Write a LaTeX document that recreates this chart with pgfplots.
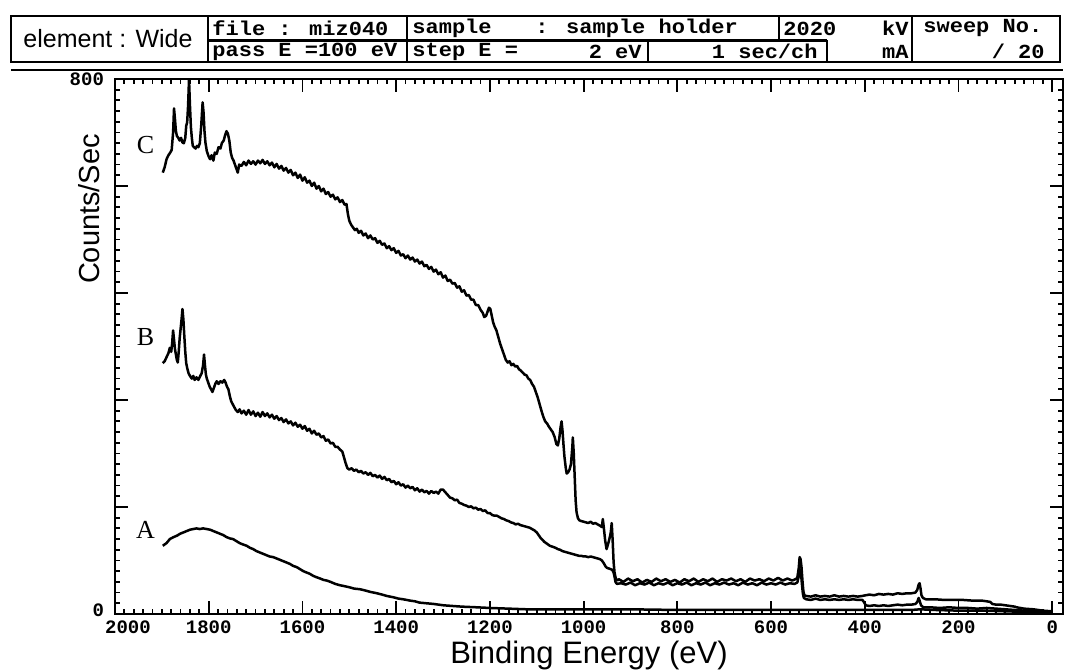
\documentclass[border=0pt]{standalone}
\usepackage{fontspec}
\setmainfont{Liberation Sans}
\newfontfamily\monob{Liberation Mono}
\newfontfamily\hdrfont{Liberation Mono}[FakeStretch=1.1]
\newfontfamily\serifl{Liberation Serif}
\usepackage{pgfplots}
\usepackage{pgfplotstable}
\pgfplotsset{compat=1.18}

% spectrum C (top)
\pgfplotstableread{
x y
1898 660
1894 668
1890 680
1886 686
1882 690
1879 694
1876 720
1874 756
1872 740
1870 722
1868 715
1865 712
1862 708
1859 712
1856 705
1853 704
1850 712
1848 730
1846 735
1844 760
1842 800
1840 760
1838 728
1836 712
1834 700
1831 698
1828 696
1825 700
1822 698
1819 704
1816 730
1813 765
1811 750
1809 722
1807 705
1804 692
1800 684
1797 680
1794 686
1790 678
1787 690
1783 688
1779 698
1775 696
1772 704
1768 708
1765 716
1762 722
1759 718
1756 708
1753 690
1750 682
1747 678
1744 672
1741 666
1738 660
1735 672
1730 670
1725 676
1720 671
1715 678
1710 673
1705 677
1700 672
1695 678
1690 674
1685 679
1680 673
1675 677
1670 671
1665 675
1660 668
1655 673
1650 666
1645 670
1640 663
1635 667
1630 660
1625 664
1620 656
1615 660
1610 652
1605 657
1600 648
1595 653
1590 645
1585 648
1580 640
1575 645
1570 636
1565 640
1560 632
1555 636
1550 628
1545 631
1540 624
1535 627
1530 620
1525 623
1520 616
1515 619
1510 612
1506 613
1503 598
1500 588
1496 582
1492 578
1488 574
1484 576
1480 570
1475 573
1470 566
1465 569
1460 562
1455 566
1450 560
1445 562
1440 555
1435 558
1430 552
1425 554
1420 547
1415 550
1410 544
1405 547
1400 540
1395 543
1390 536
1385 538
1380 532
1375 536
1370 530
1365 533
1360 527
1355 530
1350 524
1345 527
1340 520
1335 522
1330 516
1325 519
1320 512
1315 515
1310 508
1305 511
1300 503
1295 506
1290 498
1285 500
1280 494
1275 495
1270 488
1265 490
1260 482
1255 484
1250 476
1245 477
1240 470
1235 470
1230 462
1225 462
1220 455
1215 450
1212 444
1208 446
1205 452
1202 458
1199 456
1196 446
1193 436
1190 430
1186 424
1182 414
1178 404
1174 396
1170 388
1166 380
1162 376
1158 378
1154 372
1150 374
1146 370
1142 371
1138 366
1134 364
1130 361
1126 358
1122 357
1118 352
1114 350
1110 344
1106 340
1102 332
1098 324
1094 314
1090 304
1086 295
1082 288
1078 285
1074 280
1070 276
1066 272
1062 265
1058 254
1055 252
1052 262
1049 280
1047 288
1045 274
1043 254
1041 236
1038 218
1036 210
1033 212
1030 216
1027 224
1024 250
1023 264
1021 240
1019 205
1017 170
1015 152
1012 143
1009 140
1005 139
1000 138
995 137
990 136
985 138
980 135
975 136
970 134
965 132
961 130
959 142
957 130
954 110
951 97
948 104
945 112
942 122
940 136
938 110
936 78
934 62
931 52
928 50
925 52
915 48
905 53
895 49
885 52
875 47
865 51
855 48
845 53
835 49
825 52
815 48
805 51
795 47
785 52
775 49
765 53
755 48
745 52
735 49
725 53
715 48
705 52
695 50
685 53
675 49
665 52
655 48
645 53
635 50
625 52
615 49
605 53
595 50
585 54
575 50
565 53
555 50
548 52
544 54
541 68
539 85
537 82
535 70
533 50
531 34
529 28
525 27
515 26
505 28
495 26
485 27
475 26
465 28
455 26
445 27
435 26
425 27
415 26
405 27
398 28
390 29
380 28
370 30
360 29
350 30
340 29
330 31
320 30
310 31
300 31
292 32
288 36
285 44
283 46
281 38
279 28
276 24
270 22
250 22
230 21
210 21
190 21
170 20
150 20
140 19
132 18
128 15
120 14
110 14
100 13
90 12
80 11
76 10
60 8
40 7
20 5
0 4
}\curveC

% spectrum B (middle)
\pgfplotstableread{
x y
1898 375
1894 378
1890 384
1886 390
1883 398
1880 392
1878 405
1876 424
1874 410
1872 396
1870 388
1868 380
1866 376
1864 392
1862 412
1860 426
1858 440
1856 456
1854 440
1852 415
1850 392
1848 375
1846 368
1843 360
1840 356
1836 352
1833 356
1830 350
1826 354
1822 350
1818 356
1815 360
1812 372
1810 388
1808 372
1806 358
1804 352
1801 346
1798 340
1795 336
1792 332
1789 338
1786 344
1783 348
1779 344
1775 348
1771 346
1767 350
1764 346
1761 340
1758 336
1755 326
1752 318
1749 314
1746 310
1742 305
1738 302
1734 306
1730 300
1725 304
1720 298
1715 305
1710 298
1705 303
1700 296
1695 301
1690 295
1685 302
1680 296
1675 300
1670 294
1665 298
1660 292
1655 296
1650 290
1645 293
1640 287
1635 291
1630 285
1625 288
1620 282
1615 286
1610 280
1605 283
1600 277
1595 281
1590 274
1585 277
1580 270
1575 274
1570 268
1565 270
1560 264
1555 266
1550 259
1545 261
1540 255
1535 256
1530 250
1525 250
1520 246
1515 243
1512 236
1508 226
1504 218
1500 216
1495 218
1490 214
1485 216
1480 212
1475 214
1470 210
1465 212
1460 208
1455 211
1450 206
1445 208
1440 204
1435 207
1430 202
1425 205
1420 200
1415 202
1410 197
1405 199
1400 194
1395 197
1390 192
1385 194
1380 189
1375 192
1370 188
1365 190
1360 185
1355 188
1350 183
1345 186
1340 182
1335 184
1330 180
1325 184
1320 181
1315 183
1310 180
1305 186
1300 186
1295 182
1290 178
1285 174
1280 173
1275 170
1270 171
1265 166
1260 165
1255 163
1250 162
1245 160
1240 161
1235 158
1230 159
1225 156
1220 157
1215 154
1210 155
1205 151
1200 151
1195 148
1190 147
1185 147
1180 145
1175 143
1170 142
1165 140
1160 139
1155 137
1150 136
1145 134
1140 135
1135 133
1130 132
1125 131
1120 130
1115 129
1110 127
1105 125
1100 122
1096 118
1092 114
1088 111
1084 108
1080 106
1076 104
1072 102
1068 101
1064 100
1060 99
1055 97
1050 96
1045 94
1040 93
1035 92
1030 91
1025 90
1020 89
1015 88
1010 87
1005 87
1000 86
995 86
990 85
985 86
980 85
975 84
970 83
965 82
961 80
957 76
953 71
950 69
946 68
942 67
939 66
936 62
934 56
932 48
929 45
920 46
910 44
900 47
890 43
880 46
870 44
860 47
850 43
840 46
830 44
820 47
810 43
800 46
790 44
780 47
770 43
760 46
750 44
740 47
730 43
720 46
710 44
700 47
690 44
680 46
670 43
660 47
650 44
640 46
630 43
620 47
610 44
600 46
590 44
580 47
570 44
560 46
550 45
544 47
541 56
538 67
536 60
534 44
532 30
530 24
525 22
515 21
505 23
495 21
485 22
475 21
465 22
455 21
445 22
435 21
425 22
415 21
405 21
401 17
398 13
390 12
380 13
370 12
360 13
350 12
340 13
330 14
320 13
310 14
300 14
292 15
288 18
285 24
283 20
280 13
275 10
260 10
240 9
220 10
200 9
180 9
160 8
140 9
120 8
100 7
80 6
60 5
40 4
20 4
0 3
}\curveB

% spectrum A (bottom)
\pgfplotstableread{
x y
1898 102
1890 106
1883 112
1875 115
1868 117
1861 120
1854 122
1847 124
1840 126
1833 127
1826 128
1819 127
1812 128
1804 127
1797 126
1790 124
1783 122
1776 120
1769 118
1762 115
1755 113
1748 112
1741 109
1734 106
1727 104
1719 102
1712 99
1705 97
1698 94
1691 92
1684 90
1677 88
1670 86
1662 85
1655 83
1648 81
1641 79
1634 77
1627 75
1620 72
1612 70
1605 67
1598 64
1591 62
1584 60
1577 57
1570 55
1562 53
1555 51
1548 50
1540 48
1530 45
1520 43
1513 42
1500 40
1490 38
1477 37
1465 35
1455 33
1441 31
1430 29
1420 27
1406 25
1395 23
1385 22
1370 20
1360 19
1350 17
1335 16
1320 15
1299 13
1280 12
1260 11
1228 10
1200 9
1160 8
1121 7
1080 7
1000 7
900 7
800 6
700 6
600 6
540 6
500 6
400 6
300 6
282 7
250 6
200 5
150 5
100 4
50 3
0 3
}\curveA

\begin{document}
\begin{tikzpicture}
\useasboundingbox (0,0) rectangle (532.5pt,336pt);
\begin{axis}[
  at={(57.5pt,29pt)}, anchor=south west,
  scale only axis, width=474pt, height=267.5pt,
  x dir=reverse, xmin=-23, xmax=2000, ymin=0, ymax=800,
  xtick={0,200,...,2000}, minor x tick num=9,
  xticklabels={0,200,400,600,800,1000,1200,1400,1600,1800,\hspace*{13pt}2000},
  ytick={0,160,320,480,640,800},
  yticklabels={\raisebox{4pt}{0},{},{},{},{},\raisebox{-4pt}{800}},
  minor y tick num=9,
  tick align=inside, major tick length=6.5pt, minor tick length=2.5pt,
  axis line style={line width=1.3pt},
  every tick/.style={line width=0.9pt, black},
  ticklabel style={font=\monob\bfseries\fontsize{9.5}{10}\selectfont},
  yticklabel style={xshift=-2pt},
  /pgf/number format/assume math mode=true,
  /pgf/number format/1000 sep={},
]
\addplot[black, line width=1.25pt, line join=round] table[x=x,y=y] {\curveA};
\addplot[black, line width=1.25pt, line join=round] table[x=x,y=y] {\curveB};
\addplot[black, line width=1.25pt, line join=round] table[x=x,y=y] {\curveC};
\node[font=\serifl\fontsize{13}{13}\selectfont] at (axis cs:1935,701) {C};
\node[font=\serifl\fontsize{13}{13}\selectfont] at (axis cs:1935,414) {B};
\node[font=\serifl\fontsize{13}{13}\selectfont] at (axis cs:1935,126) {A};
\end{axis}

\begin{scope}[x=0.5pt,y=-0.5pt,yshift=336pt]
  % header boxes
  \draw[line width=1.1pt] (11,16) rectangle (1060,62);
  \draw[line width=1.1pt] (208,16)--(208,62) (407,16)--(407,62) (912,16)--(912,62);
  \draw[line width=1.1pt] (208,40.5)--(827,40.5);
  \draw[line width=1.1pt] (648,40.5)--(648,62) (827,40.5)--(827,62) (779,16)--(779,40.5);
  \draw[line width=0.8pt] (11,70)--(1063,70);
  \node[font=\fontsize{12.5}{12.5}\selectfont] at (108,39) {element : Wide};
  \begin{scope}[every node/.style={font=\hdrfont\bfseries\fontsize{10}{10}\selectfont, inner sep=0pt}]
    \node[anchor=west] at (212,28.5) {file : miz040};
    \node[anchor=west] at (212,51.5) {pass E =100 eV};
    \node[anchor=west] at (412,28.5) {sample};
    \node[anchor=west] at (535,28.5) {: sample holder};
    \node[anchor=west] at (412,51.5) {step E =};
    \node[anchor=east] at (642,51.5) {2  eV};
    \node[anchor=east] at (818,51.5) {1 sec/ch};
    \node[anchor=west] at (783,28.5) {2020};
    \node[anchor=east] at (909,28.5) {kV};
    \node[anchor=east] at (909,51.5) {mA};
    \node[anchor=west] at (923,28.5) {sweep No.};
    \node[anchor=east] at (1045,51.5) {/ 20};
  \end{scope}
  % axis titles
  \node[rotate=90, font=\fontsize{14.5}{14.5}\selectfont] at (89,209) {Counts/Sec};
  \node[font=\fontsize{15.5}{15.5}\selectfont] at (589,655) {Binding Energy (eV)};
\end{scope}
\end{tikzpicture}
\end{document}
